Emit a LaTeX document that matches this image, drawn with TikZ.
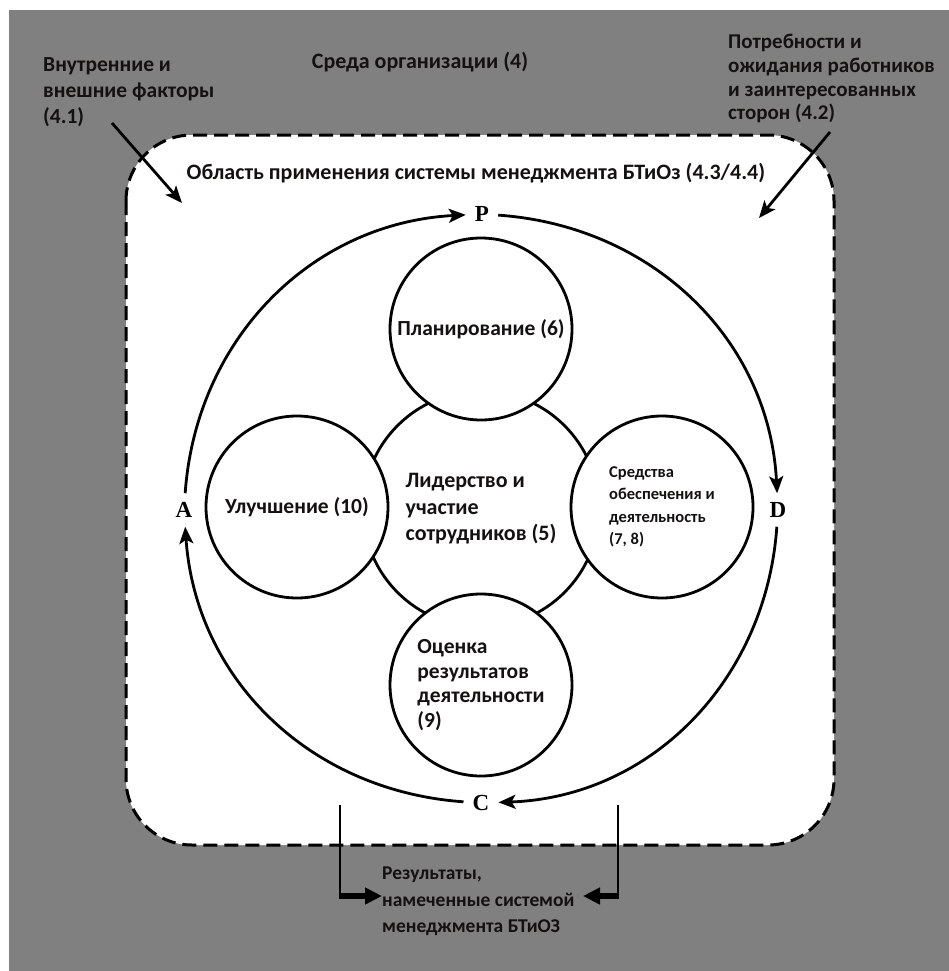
\documentclass[tikz,border=0pt]{standalone}
\usepackage{fontspec}
\setmainfont{Carlito}
\newfontfamily\pdcafont{Liberation Serif}
\usetikzlibrary{positioning,arrows.meta}

\definecolor{bggray}{RGB}{128,128,128}
\definecolor{ink}{RGB}{20,18,16}

\tikzset{
  txt/.style={font=\bfseries\fontsize{21.5}{26}\selectfont, text=ink, align=left, inner sep=0pt},
  stage/.style={circle, draw, line width=2.8pt, fill=white, minimum size=182pt, inner sep=0pt,
    font=\bfseries\fontsize{21.5}{26}\selectfont, text=ink, align=left},
  letter/.style={font=\pdcafont\bfseries\fontsize{23}{23}\selectfont, inner sep=9pt},
  cycle/.style={line width=2.8pt, -{Stealth[length=17pt,width=14pt,inset=4pt]}},
  scopebox/.style={draw, fill=white, line width=3pt, dash pattern=on 14pt off 7pt, rounded corners=66pt}
}

\begin{document}
\begin{tikzpicture}[x=1pt,y=1pt]
 \useasboundingbox (0,0) rectangle (949,-971);
 \fill[white] (0,0) rectangle (949,-971);
 \fill[bggray] (9,-10) rectangle (949,-971);
 \draw[scopebox] (126,-135) rectangle (834,-845);

 \node[txt, font=\bfseries\fontsize{22}{26}\selectfont] (org) at (420,-62) {Среда организации (4)};
 \node[txt, anchor=north west] (factors) at (43,-57) {Внутренние и\\внешние факторы\\(4.1)};
 \node[txt, anchor=north west, font=\bfseries\fontsize{21}{23.7}\selectfont] (needs) at (728,-34)
   {Потребности и\\ожидания работников\\и заинтересованных\\сторон (4.2)};
 \node[txt, font=\bfseries\fontsize{22}{26}\selectfont] (scope) at (476,-173) {Область применения системы менеджмента БТиОз (4.3/4.4)};

 \coordinate (fstart) at (112,-123);
 \coordinate (fend) at (182,-203);
 \coordinate (nstart) at (830,-132);
 \coordinate (nend) at (759,-218);
 \draw[cycle] (fstart) -- (fend);
 \draw[cycle] (nstart) -- (nend);

 % leadership in the middle, the four stages round it
 \node[stage, minimum size=236pt, font=\bfseries\fontsize{22}{26.5}\selectfont] (lead) at (481,-509) {Лидерство и\\участие\\сотрудников (5)};
 \node[stage] (plan) at (481,-329) {Планирование (6)};
 \node[stage] (improve) at (297,-507) {Улучшение (10)};
 \node[stage, font=\bfseries\fontsize{16.5}{22.5}\selectfont] (support) at (662,-507)
   {Средства\\обеспечения и\\деятельность\\(7, 8)};
 \node[stage, font=\bfseries\fontsize{21.5}{24.5}\selectfont] (check) at (481,-685) {Оценка\\результатов\\деятельности\\(9)};

 \node[letter] (P) at (482,-214) {P};
 \node[letter] (D) at (778,-510) {D};
 \node[letter] (C) at (481,-803) {C};
 \node[letter] (A) at (184,-510) {A};

 \draw[cycle] (P) to[out=-4, in=93] (D);
 \draw[cycle] (D) to[out=266, in=2] (C);
 \draw[cycle] (C) to[out=176, in=274] (A);
 \draw[cycle] (A) to[out=86, in=183] (P);

 \node[txt, anchor=north west, font=\bfseries\fontsize{19.5}{26.5}\selectfont] (result) at (382,-867)
   {Результаты,\\намеченные системой\\менеджмента БТиОЗ};

 \coordinate (outl) at (340,-805);
 \coordinate (outr) at (618,-805);
 \coordinate (turnl) at (340,-896);
 \coordinate (turnr) at (618,-896);
 \draw[line width=2pt] (outl) -- (turnl);
 \draw[line width=2pt] (outr) -- (turnr);
 \draw[line width=6pt, -{Triangle[length=17pt,width=16pt]}] ([xshift=-1pt]turnl) -- (result.west |- turnl);
 \draw[line width=6pt, -{Triangle[length=17pt,width=16pt]}] ([xshift=1pt]turnr) -- ([xshift=201pt]result.west |- turnr);
\end{tikzpicture}
\end{document}
